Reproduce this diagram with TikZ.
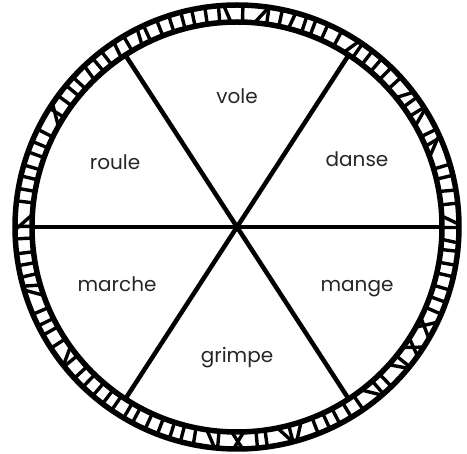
\documentclass[tikz,border=0pt]{standalone}
\usepackage{fontspec}
\setmainfont{Poppins}
\usetikzlibrary{calc}
\tikzset{
  rim/.style={line width=5.5pt},
  tick/.style={line width=3.4pt},
  spoke/.style={line width=4.5pt},
  word/.style={font=\fontsize{20}{24}\selectfont, text=black!85, anchor=base}
}
\begin{document}
\begin{tikzpicture}[x=1pt,y=-1pt]
\useasboundingbox (0,0) rectangle (467,454);
\coordinate (c) at (237,227);
% ring
\draw[rim] (c) circle (222);
\draw[rim] (c) circle (205);
\pgfmathsetseed{11}
\foreach \i in {0,...,109}{
  \pgfmathsetmacro\tA{\i*3.272727 + (rnd-0.5)*0.8}
  \pgfmathsetmacro\tR{rnd}
  \pgfmathsetmacro\tQ{(rnd-0.5)*9}
  \pgfmathsetmacro\tS{(\tR<0.3)*\tQ}
  \pgfmathsetmacro\tB{\tA+\tS}
  \draw[tick] ($(c)+(\tA:205)$) -- ($(c)+(\tB:222)$);
}
% spokes
\foreach \n/\ang in {e/0,ne/57,nw/123,w/180,sw/237,se/303}{
  \coordinate (\n) at ($(c)+(\ang:203)$);
}
\draw[spoke] (w) -- (e);
\draw[spoke] (nw) -- (se);
\draw[spoke] (ne) -- (sw);
% labels
\node[word] (vole) at (237,104) {vole};
\node[word] (danse) at (357,167) {danse};
\node[word] (roule) at (115,170) {roule};
\node[word] (marche) at (117,292) {marche};
\node[word] (mange) at (357,292) {mange};
\node[word] (grimpe) at (237,363) {grimpe};
\end{tikzpicture}
\end{document}
